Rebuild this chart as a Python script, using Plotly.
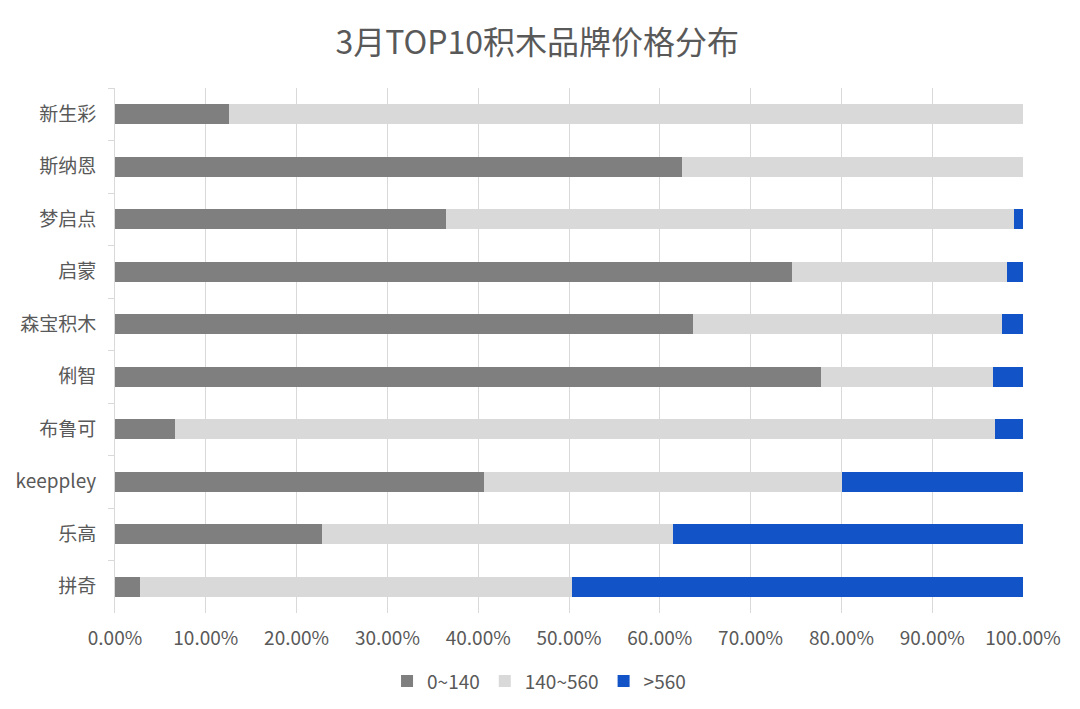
import plotly.graph_objects as go

# brands, top to bottom as shown
brands = ["新生彩", "斯纳恩", "梦启点", "启蒙", "森宝积木", "俐智", "布鲁可", "keeppley", "乐高", "拼奇"]

# share of each price band (fraction of 1)
low = [0.126, 0.624, 0.365, 0.746, 0.637, 0.778, 0.066, 0.406, 0.228, 0.028]
mid = [0.874, 0.376, 0.625, 0.236, 0.340, 0.189, 0.903, 0.395, 0.387, 0.475]
high = [0.000, 0.000, 0.010, 0.018, 0.023, 0.033, 0.031, 0.199, 0.385, 0.497]

series = [
    ("0~140", low, "#7f7f7f"),
    ("140~560", mid, "#d9d9d9"),
    (">560", high, "#1254c8"),
]

fig = go.Figure()
for name, vals, color in series:
    fig.add_trace(go.Bar(
        y=brands, x=vals, name=name, orientation="h",
        marker=dict(color=color, line_width=0),
        hoverinfo="name+x",
    ))

fig.update_layout(
    barmode="stack",
    bargap=0.62,
    width=1080, height=709,
    plot_bgcolor="white", paper_bgcolor="white",
    font=dict(family="Noto Sans CJK SC, Noto Sans, sans-serif", size=19, color="#595959"),
    title=dict(text="3月TOP10积木品牌价格分布", x=0.49, xanchor="center",
               y=0.951, yanchor="middle", font=dict(size=32, color="#595959")),
    margin=dict(l=107, r=65, t=80, b=104),
    legend=dict(orientation="h", x=0.467, xanchor="center", y=-0.13, yanchor="middle",
                font=dict(size=19, color="#595959"), traceorder="normal"),
)

fig.update_xaxes(range=[0, 1], dtick=0.1, tickformat=".2%",
                 showgrid=True, gridcolor="#d9d9d9", gridwidth=1,
                 zeroline=False, showline=False, ticks="",
                 ticklabelstandoff=12, automargin=False,
                 tickfont=dict(size=19, color="#595959"))
fig.update_yaxes(autorange="reversed", showline=True, linecolor="#d9d9d9",
                 ticks="outside", tickson="boundaries", ticklen=6, tickcolor="#d9d9d9",
                 ticklabelstandoff=14, automargin=False,
                 showgrid=False, tickfont=dict(size=19, color="#595959"))

fig.write_html("out.html")
